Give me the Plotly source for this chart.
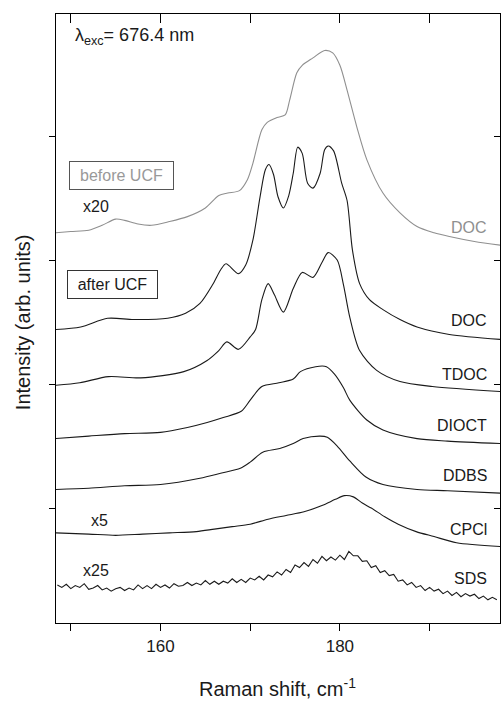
import plotly.graph_objects as go

FONT = "Liberation Sans, Arial, sans-serif"
BLACK = "#1a1a1a"
GREY = "#8f8f8f"

# ---- data (Raman shift in cm^-1, offset intensity in arb. units) ----
shift_doc_before = [148.3, 150, 152, 153.5, 155, 156, 157.5, 159, 161, 163, 165, 166.5, 167.5, 168.8,
                    169.7, 170.3, 171.3, 171.9, 173, 173.9, 174.4, 175.2, 175.8, 177, 178.3, 179.2,
                    180, 180.8, 181.9, 183, 184.8, 186.7, 188.6, 190.5, 192.2, 195, 197.9]
int_doc_before = [32.2, 32.3, 32.4, 32.8, 33.3, 33.2, 32.9, 32.8, 33.1, 33.5, 34.2, 35.2, 35.4, 35.6,
                  36.5, 37.8, 40.5, 41.1, 41.5, 41.7, 42.9, 45.1, 45.7, 46.3, 46.9, 46.7,
                  45.7, 43.7, 40.7, 38.1, 35.4, 33.8, 32.7, 32.2, 31.9, 31.5, 31.2]

shift_doc = [148.3, 151.1, 154.1, 157, 160.8, 162.8, 164.4, 165.8, 166.7, 167.3, 168.7, 169.5, 170.3,
             171.1, 171.7, 172.1, 172.6, 173.1, 173.7, 174.3, 174.8, 175.3, 175.8, 176.4, 177, 177.8,
             178.3, 178.7, 179.3, 180.2, 180.8, 181.4, 182.2, 183.3, 184.8, 186.7, 188.6, 192.2, 197.9]
int_doc = [24.4, 24.6, 25.3, 25.2, 25.3, 25.7, 26.5, 28.0, 29.2, 29.7, 28.9, 29.6, 31.6,
           35.1, 37.3, 37.7, 36.9, 35.1, 34.2, 35.2, 37.0, 39.1, 38.6, 36.2, 35.8, 37.0,
           38.9, 39.2, 38.8, 36.2, 34.8, 30.8, 28.1, 26.8, 26.0, 25.2, 24.6, 24.0, 23.6]

shift_tdoc = [148.3, 151, 154.2, 157.8, 162.6, 165.2, 166.5, 167.4, 168.7, 170, 170.6, 171.3, 172, 172.7,
              173.7, 174.8, 175.8, 177, 178, 178.7, 179.7, 180.4, 181.1, 182.2, 184.1, 186.7, 190.3, 197.9]
int_tdoc = [19.9, 20.1, 20.6, 20.5, 21.0, 21.9, 22.7, 23.4, 22.8, 23.8, 24.4, 26.8, 28.1, 27.2,
            25.8, 27.7, 29.0, 28.6, 29.8, 30.6, 30.0, 28.0, 25.4, 22.7, 21.1, 20.2, 19.8, 19.4]

shift_dioct = [148.3, 152, 156, 160, 163, 165.2, 167, 169, 170, 171.3, 173.2, 174.8, 175.6, 177.3,
               178.5, 179.4, 180.4, 181.1, 183, 184.8, 188.6, 192, 197.9]
int_dioct = [15.6, 15.8, 16.0, 16.1, 16.5, 16.9, 17.3, 17.8, 18.7, 19.8, 20.1, 20.4, 21.0, 21.4,
             21.4, 20.8, 19.7, 18.7, 17.1, 16.3, 15.6, 15.4, 15.2]

shift_ddbs = [148.3, 152, 156, 160, 164.4, 166.7, 168.9, 170, 171.4, 173.3, 174.8, 175.9, 177.8, 178.6,
              179.7, 181.1, 182.9, 184.8, 188.6, 192, 197.9]
int_ddbs = [11.5, 11.6, 11.8, 11.9, 12.4, 12.8, 13.2, 13.7, 14.5, 14.8, 15.2, 15.6, 15.8, 15.7,
            15.0, 13.8, 12.5, 11.9, 11.5, 11.4, 11.2]

shift_cpcl = [148.3, 152, 155, 158, 161, 164, 166, 168, 170, 172, 174, 176, 178, 179.5, 180.5, 181.5,
              182.5, 183.5, 185, 186.5, 188.5, 190.5, 193, 197.9]
int_cpcl = [8.0, 7.9, 7.8, 7.9, 8.0, 8.1, 8.3, 8.5, 8.7, 9.1, 9.4, 9.7, 10.2, 10.7, 11.0, 10.9,
            10.4, 10.0, 9.3, 8.7, 8.1, 7.7, 7.2, 6.9]

shift_sds = [148.5 + 0.5 * i for i in range(99)]
int_sds = [3.8, 3.6, 3.85, 3.5, 3.75, 3.6, 3.9, 3.45, 3.55, 3.75,
           3.4, 3.55, 3.3, 3.5, 3.6, 3.35, 3.55, 3.4, 3.8, 3.5,
           3.75, 3.5, 3.85, 3.6, 3.8, 3.55, 3.9, 3.7, 3.75, 4.0,
           3.75, 3.95, 3.8, 4.15, 3.85, 4.1, 3.85, 4.1, 3.95, 4.3,
           4.0, 4.25, 4.0, 4.35, 4.2, 4.5, 4.2, 4.6, 4.45, 4.85,
           4.6, 5.05, 4.8, 5.4, 5.2, 5.6, 5.3, 5.85, 5.55, 6.1,
           5.75, 6.05, 5.8, 6.2, 5.85, 6.5, 6.15, 6.15, 5.7, 5.75,
           5.2, 5.35, 4.8, 4.95, 4.55, 4.65, 4.1, 4.2, 3.8, 4.0,
           3.6, 3.75, 3.35, 3.6, 3.3, 3.45, 3.1, 3.3, 2.95, 3.2,
           2.85, 3.1, 2.9, 3.05, 2.7, 2.9, 2.6, 2.8, 2.6]

x_major_ticks = [160, 180]
x_minor_ticks = [150, 170, 190]
x_all_ticks = [150, 160, 170, 180, 190]
y_ticks = [10, 20, 30, 40]
x_range = [148.35, 197.85]
y_range = [0.73, 49.84]

# label texts and their anchor values
curve_labels = ["DOC", "DOC", "TDOC", "DIOCT", "DDBS", "CPCl", "SDS"]
curve_label_y = [32.66, 25.16, 20.73, 16.69, 12.66, 8.31, 4.35]
curve_label_color = [GREY, BLACK, BLACK, BLACK, BLACK, BLACK, BLACK]

series = [
    (shift_doc_before, int_doc_before, GREY, "spline"),
    (shift_doc, int_doc, BLACK, "spline"),
    (shift_tdoc, int_tdoc, BLACK, "spline"),
    (shift_dioct, int_dioct, BLACK, "spline"),
    (shift_ddbs, int_ddbs, BLACK, "spline"),
    (shift_cpcl, int_cpcl, BLACK, "spline"),
    (shift_sds, int_sds, BLACK, "linear"),
]

fig = go.Figure()
for xs, ys, col, shape in series:
    line = dict(color=col, width=1.1, shape=shape)
    if shape == "spline":
        line["smoothing"] = 0.8
    fig.add_trace(go.Scatter(x=xs, y=ys, mode="lines", line=line, showlegend=False, hoverinfo="skip"))
# dummy trace so mirrored axes get drawn
fig.add_trace(go.Scatter(x=[None], y=[None], xaxis="x2", yaxis="y2", showlegend=False,
                         hoverinfo="skip", mode="lines"))

axis_common = dict(showline=True, linecolor="black", linewidth=1.3, showgrid=False, zeroline=False,
                   tickcolor="black", tickwidth=1.3)

fig.update_layout(
    width=501, height=701,
    margin=dict(l=56, r=1, t=14, b=78),
    paper_bgcolor="white", plot_bgcolor="white",
    font=dict(family=FONT, color=BLACK),
    xaxis=dict(range=x_range, tickvals=x_major_ticks, ticks="outside", ticklen=7,
               minor=dict(tickvals=x_minor_ticks, ticks="outside", ticklen=7, tickcolor="black",
                          tickwidth=1.3, showgrid=False),
               tickfont=dict(size=17, family=FONT, color=BLACK), **axis_common),
    xaxis2=dict(range=x_range, overlaying="x", side="top", tickvals=x_all_ticks, ticks="inside", ticklen=9,
                showticklabels=False, anchor="y", **axis_common),
    yaxis=dict(range=y_range, tickvals=y_ticks, ticks="outside", ticklen=6, showticklabels=False,
               **axis_common),
    yaxis2=dict(range=y_range, overlaying="y", side="right", tickvals=y_ticks, ticks="inside", ticklen=6,
                showticklabels=False, anchor="x", **axis_common),
)

ann = []
for t, yv, c in zip(curve_labels, curve_label_y, curve_label_color):
    ann.append(dict(x=196.67, y=yv, xref="x", yref="y", text=t, showarrow=False, xanchor="right",
                    yanchor="middle", font=dict(size=16, color=c, family=FONT)))
ann += [
    dict(x=150.2, y=48.0, xref="x", yref="y", text="λ<sub>exc</sub>= 676.4 nm", showarrow=False,
         xanchor="left", yanchor="middle", font=dict(size=18, color=BLACK, family=FONT)),
    dict(x=155.6, y=36.8, xref="x", yref="y", text="before UCF", showarrow=False, xanchor="center",
         yanchor="middle", font=dict(size=16, color="#999999", family=FONT), bordercolor="#555555",
         borderwidth=1, borderpad=2, width=99, height=23),
    dict(x=154.7, y=28.0, xref="x", yref="y", text="after UCF", showarrow=False, xanchor="center",
         yanchor="middle", font=dict(size=16, color=BLACK, family=FONT), bordercolor="#333333",
         borderwidth=1, borderpad=2, width=85, height=23),
    dict(x=152.8, y=34.3, xref="x", yref="y", text="x20", showarrow=False, xanchor="center",
         yanchor="middle", font=dict(size=16, color=BLACK, family=FONT)),
    dict(x=153.2, y=9.0, xref="x", yref="y", text="x5", showarrow=False, xanchor="center",
         yanchor="middle", font=dict(size=16, color=BLACK, family=FONT)),
    dict(x=152.8, y=5.0, xref="x", yref="y", text="x25", showarrow=False, xanchor="center",
         yanchor="middle", font=dict(size=16, color=BLACK, family=FONT)),
    dict(x=0.499, y=-0.1067, xref="paper", yref="paper", text="Raman shift, cm<sup>-1</sup>",
         showarrow=False, xanchor="center", yanchor="middle", font=dict(size=20, color=BLACK, family=FONT)),
    dict(x=-0.0743, y=0.494, xref="paper", yref="paper", text="Intensity (arb. units)", textangle=-90,
         showarrow=False, xanchor="center", yanchor="middle", font=dict(size=20, color=BLACK, family=FONT)),
]
fig.update_layout(annotations=ann)

fig.write_html("out.html")
